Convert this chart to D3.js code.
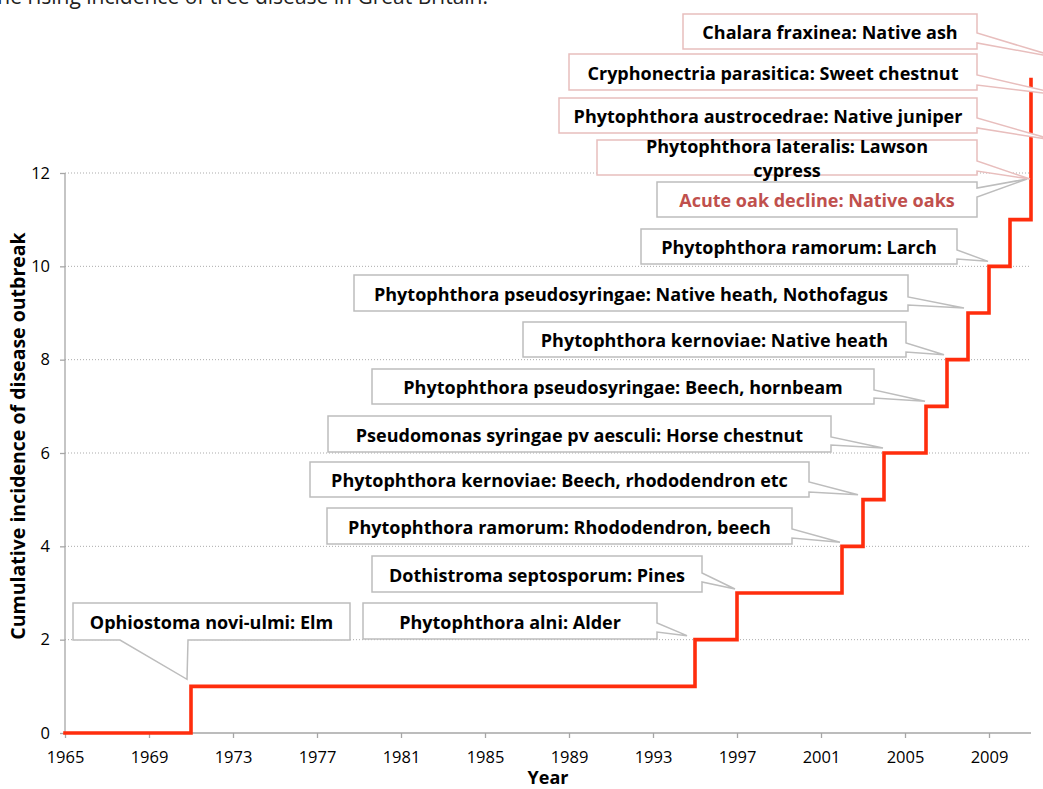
<!DOCTYPE html>
<html>
<head>
<meta charset="utf-8">
<script src="https://cdn.jsdelivr.net/npm/d3@7"></script>
<style>
  body { margin: 0; background: #fff; }
  svg { display: block; font-family: 'Open Sans', sans-serif; }
</style>
</head>
<body>
<svg id="chart" width="1043" height="789"></svg>
<script>
// cumulative count of new outbreaks, by year of first record
const years = [1965, 1971, 1995, 1997, 2002, 2003, 2004, 2006, 2007, 2008, 2009, 2010, 2011]
const counts = [0, 1, 2, 3, 4, 5, 6, 7, 8, 9, 10, 11, 14]

const xTicks = [1965, 1969, 1973, 1977, 1981, 1985, 1989, 1993, 1997, 2001, 2005, 2009]
const yTicks = [0, 2, 4, 6, 8, 10, 12]

const labels = [
  'Ophiostoma novi-ulmi: Elm',
  'Phytophthora alni: Alder',
  'Dothistroma septosporum: Pines',
  'Phytophthora ramorum: Rhododendron, beech',
  'Phytophthora kernoviae: Beech, rhododendron etc',
  'Pseudomonas syringae pv aesculi: Horse chestnut',
  'Phytophthora pseudosyringae: Beech, hornbeam',
  'Phytophthora kernoviae: Native heath',
  'Phytophthora pseudosyringae: Native heath, Nothofagus',
  'Phytophthora ramorum: Larch',
  'Acute oak decline: Native oaks',
  'Phytophthora lateralis: Lawson\ncypress',
  'Phytophthora austrocedrae: Native juniper',
  'Cryphonectria parasitica: Sweet chestnut',
  'Chalara fraxinea: Native ash',
]
const labelYears = [1971, 1995, 1997, 2002, 2003, 2004, 2006, 2007, 2008, 2009, 2011, 2011, 2011, 2011, 2011]
const labelValues = [1, 2, 3, 4, 5, 6, 7, 8, 9, 10, 12, 12, 13, 14, 15]

// callout layout: box x, y, w, h, side of the pointer, pointer base (offsets along that side), tip offset from target
const boxes = [
  [73, 603, 277, 37, 'bottom', 47, 115, -4, -7],
  [363, 603, 294, 36, 'right', 20, 29, -8, -4],
  [372, 556, 330, 36, 'right', 17, 26, -2, -4],
  [327, 508, 465, 36, 'right', 21, 30, -2, -4],
  [310, 462, 499, 35, 'right', 20, 30, -5, -5],
  [328, 416, 503, 36, 'right', 21, 29, -1, -5],
  [372, 369, 502, 35, 'right', 21, 29, -1, -5],
  [523, 322, 383, 35, 'right', 21, 30, -3, -5],
  [354, 275, 554, 36, 'right', 22, 30, -4, -5],
  [641, 229, 316, 35, 'right', 21, 30, -1, -5],
  [657, 182, 320, 35, 'right', 6, 15, -4, 6],
  [597, 140, 380, 35, 'right', 21, 31, -1, 6],
  [559, 98, 418, 35, 'right', 20, 30, 24, 14],
  [569, 54, 408, 36, 'right', 21, 31, 35, 16],
  [683, 14, 294, 35, 'right', 19, 29, 29, 25],
]

const svg = d3.select('#chart')
const margin = { left: 65, right: 12, top: 173, bottom: 56 }
const width = 1043
const height = 789

const x = d3.scaleLinear().domain([1965, 2011]).range([margin.left, width - margin.right])
const y = d3.scaleLinear().domain([0, 12]).range([height - margin.bottom, margin.top])

// title, mostly cut off at the top edge
svg.append('text')
  .attr('x', 488)
  .attr('y', 4)
  .attr('text-anchor', 'end')
  .style('font-size', '21px')
  .attr('fill', '#222')
  .text('The rising incidence of tree disease in Great Britain.')

// gridlines
svg.append('g')
  .selectAll('line')
  .data(yTicks.filter((d) => d > 0))
  .join('line')
  .attr('x1', x(1965))
  .attr('x2', x(2011))
  .attr('y1', (d) => y(d))
  .attr('y2', (d) => y(d))
  .attr('stroke', '#ababab')
  .attr('stroke-width', 1)
  .attr('stroke-dasharray', '1,2')

// axes
const xAxis = svg.append('g')
  .attr('transform', `translate(0,${y(0)})`)
  .call(d3.axisBottom(x).tickValues(xTicks).tickFormat(d3.format('d')).tickSize(5).tickPadding(13))
const yAxis = svg.append('g')
  .attr('transform', `translate(${x(1965)},0)`)
  .call(d3.axisLeft(y).tickValues(yTicks).tickSize(5).tickPadding(10))

;[xAxis, yAxis].forEach((g) => {
  g.select('.domain').attr('stroke', '#a6a6a6').attr('stroke-width', 1.3)
  g.selectAll('.tick line').attr('stroke', '#a6a6a6').attr('stroke-width', 1.3)
  g.selectAll('.tick text')
    .attr('fill', '#000')
    .style('font-family', "'Open Sans', sans-serif")
    .style('font-size', '16.5px')
})
xAxis.select('.domain').attr('d', `M${x(1965)},0H${x(2011)}`)
yAxis.select('.domain').attr('d', `M0,${y(12)}V${y(0)}`)

svg.append('text')
  .attr('x', (x(1965) + x(2011)) / 2)
  .attr('y', 784)
  .attr('text-anchor', 'middle')
  .style('font-size', '18px')
  .style('font-weight', 'bold')
  .text('Year')

svg.append('text')
  .attr('transform', 'translate(25,436) rotate(-90)')
  .attr('text-anchor', 'middle')
  .style('font-size', '19.5px')
  .style('font-weight', 'bold')
  .text('Cumulative incidence of disease outbreak')

// step line
const points = years.map((yr, i) => [yr, counts[i]])
const line = d3.line()
  .x((d) => x(d[0]))
  .y((d) => y(d[1]))
  .curve(d3.curveStepAfter)

svg.append('path')
  .datum(points)
  .attr('fill', 'none')
  .attr('stroke', '#ff2d0d')
  .attr('stroke-width', 3.6)
  .attr('stroke-linecap', 'square')
  .attr('d', line)

// callouts
const calloutPath = (b, tip) => {
  const [bx, by, bw, bh, side, p1, p2] = b
  const pts = [[bx, by], [bx + bw, by]]
  if (side === 'right') {
    pts.push([bx + bw, by + p1], tip, [bx + bw, by + p2])
  }
  pts.push([bx + bw, by + bh])
  if (side === 'bottom') {
    pts.push([bx + p2, by + bh], tip, [bx + p1, by + bh])
  }
  pts.push([bx, by + bh])
  return 'M' + pts.map((p) => p.join(',')).join('L') + 'Z'
}

const callouts = svg.append('g')
  .selectAll('g')
  .data(labels.map((t, i) => ({ text: t, i })))
  .join('g')

callouts.append('path')
  .attr('d', (d) => {
    const b = boxes[d.i]
    const tip = [x(labelYears[d.i]) + b[7], y(labelValues[d.i]) + b[8]]
    return calloutPath(b, tip)
  })
  .attr('fill', '#fff')
  .attr('stroke', (d) => (d.i >= 11 ? '#e8bebd' : '#bdbdbd'))
  .attr('stroke-width', 1.5)

callouts.each(function (d) {
  const b = boxes[d.i]
  const lines = d.text.split('\n')
  const cx = b[0] + b[2] / 2
  const cy = b[1] + b[3] / 2
  d3.select(this)
    .selectAll('text')
    .data(lines)
    .join('text')
    .attr('x', cx)
    .attr('y', (t, j) => cy + 7.5 + (j - (lines.length - 1) / 2) * 24)
    .attr('text-anchor', 'middle')
    .style('font-size', '18px')
    .style('font-weight', 'bold')
    .attr('fill', d.i === 10 ? '#c0504d' : '#000')
    .text((t) => t)
})
</script>
</body>
</html>
